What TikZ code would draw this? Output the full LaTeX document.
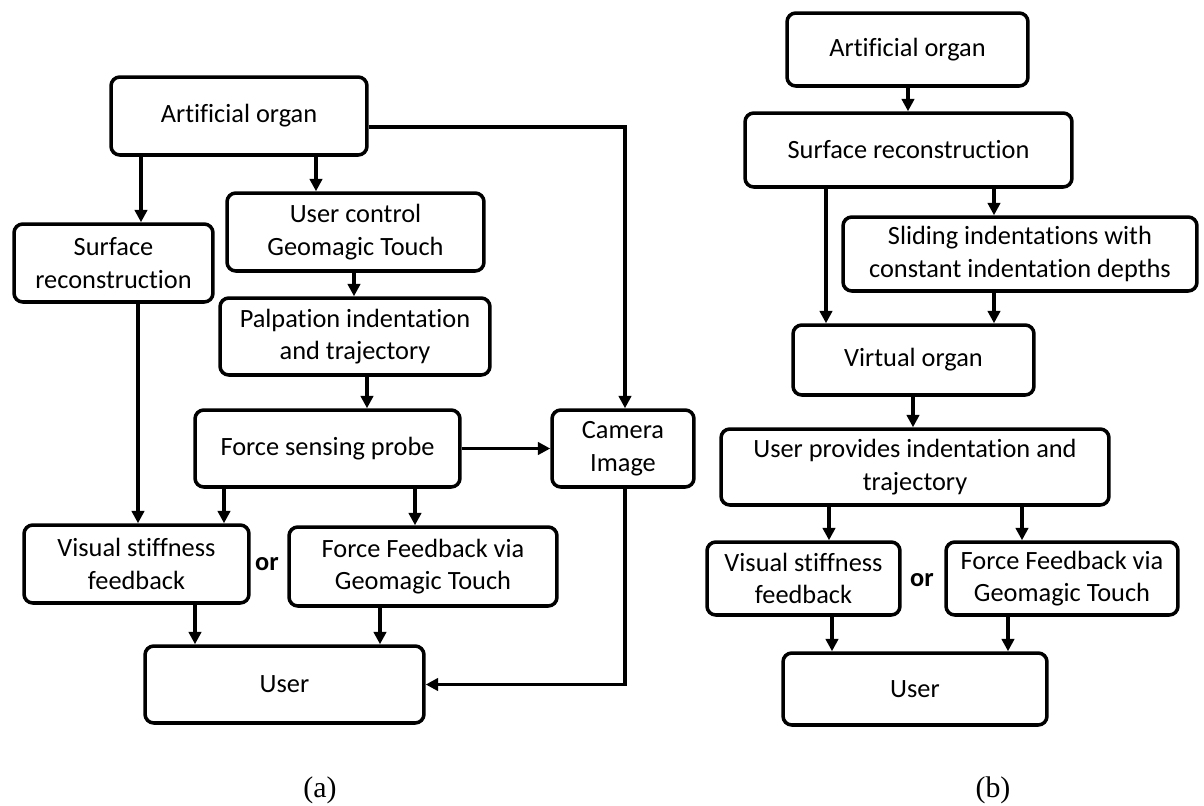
\documentclass[tikz,border=0pt]{standalone}
\usepackage{fontspec}
\setmainfont{Carlito}[Ligatures=NoCommon]
\newfontfamily\capfont{Liberation Serif}
\usetikzlibrary{arrows.meta}

\begin{document}
\begin{tikzpicture}[x=0.02cm,y=-0.02cm,
  box/.style={draw,line width=2pt,rounded corners=5pt,align=center,inner sep=0pt,
    font=\fontsize{15}{18.5}\selectfont},
  arr/.style={line width=2pt,-{Triangle[length=7pt,width=7pt]}},
  ortext/.style={font=\fontsize{15}{18}\selectfont\bfseries},
  caption/.style={font=\capfont\fontsize{17}{20}\selectfont}]

\useasboundingbox (0,0) rectangle (1204,805);

% (a)
\node[box,minimum width=5.12cm,minimum height=1.56cm] (aoA) at (239,116) {Artificial organ};
\node[box,minimum width=3.98cm,minimum height=1.56cm] (srA) at (113.5,263) {Surface\\reconstruction};
\node[box,minimum width=5.14cm,minimum height=1.56cm] (ucA) at (355.5,232) {User control\\Geomagic Touch};
\node[box,minimum width=5.4cm,minimum height=1.54cm] (palA) at (355,336.5) {Palpation indentation\\and trajectory};
\node[box,minimum width=5.3cm,minimum height=1.54cm] (fspA) at (327.5,448.5) {Force sensing probe};
\node[box,minimum width=2.84cm,minimum height=1.54cm] (camA) at (623,448.5) {Camera\\Image};
\node[box,minimum width=4.5cm,minimum height=1.56cm] (visA) at (136.5,564) {Visual stiffness\\feedback};
\node[box,minimum width=5.36cm,minimum height=1.58cm] (ffA) at (423,566.5) {Force Feedback via\\Geomagic Touch};
\node[box,minimum width=5.58cm,minimum height=1.54cm] (userA) at (284.5,684.5) {User};
\node[ortext] (orA) at (267,564) {or};

\draw[arr] (aoA.east |- 0,127) -| (625,0 |- camA.north);
\draw[arr] (141,0 |- aoA.south) -- (141,0 |- srA.north);
\draw[arr] (316,0 |- aoA.south) -- (316,0 |- ucA.north);
\draw[arr] (354,0 |- ucA.south) -- (354,0 |- palA.north);
\draw[arr] (367,0 |- palA.south) -- (367,0 |- fspA.north);
\draw[arr] (fspA.east) -- (camA.west);
\draw[arr] (138,0 |- srA.south) -- (138,0 |- visA.north);
\draw[arr] (224,0 |- fspA.south) -- (224,0 |- visA.north);
\draw[arr] (415,0 |- fspA.south) -- (415,0 |- ffA.north);
\draw[arr] (195,0 |- visA.south) -- (195,0 |- userA.north);
\draw[arr] (380,0 |- ffA.south) -- (380,0 |- userA.north);
\draw[arr] (625,0 |- camA.south) |- (userA.east);

% (b)
\node[box,minimum width=4.82cm,minimum height=1.46cm] (aoB) at (907.5,49.5) {Artificial organ};
\node[box,minimum width=6.54cm,minimum height=1.48cm] (srB) at (908.5,150) {Surface reconstruction};
\node[box,minimum width=7.08cm,minimum height=1.48cm] (slB) at (1020,254) {Sliding indentations with\\constant indentation depths};
\node[box,minimum width=4.82cm,minimum height=1.4cm] (voB) at (913.5,360) {Virtual organ};
\node[box,minimum width=7.76cm,minimum height=1.52cm] (upB) at (915,467) {User provides indentation and\\trajectory};
\node[box,minimum width=3.86cm,minimum height=1.46cm] (visB) at (803.5,578.5) {Visual stiffness\\feedback};
\node[box,minimum width=4.64cm,minimum height=1.46cm] (ffB) at (1062,578.5) {Force Feedback via\\Geomagic Touch};
\node[box,minimum width=5.28cm,minimum height=1.44cm] (userB) at (915,689) {User};
\node[ortext] (orB) at (922,580) {or};

\draw[arr] (908,0 |- aoB.south) -- (908,0 |- srB.north);
\draw[arr] (826,0 |- srB.south) -- (826,0 |- voB.north);
\draw[arr] (994,0 |- srB.south) -- (994,0 |- slB.north);
\draw[arr] (994,0 |- slB.south) -- (994,0 |- voB.north);
\draw[arr] (913,0 |- voB.south) -- (913,0 |- upB.north);
\draw[arr] (829,0 |- upB.south) -- (829,0 |- visB.north);
\draw[arr] (1022,0 |- upB.south) -- (1022,0 |- ffB.north);
\draw[arr] (832,0 |- visB.south) -- (832,0 |- userB.north);
\draw[arr] (1008,0 |- ffB.south) -- (1008,0 |- userB.north);

\node[caption] (capA) at (320,790) {(a)};
\node[caption] (capB) at (993,790) {(b)};
\end{tikzpicture}
\end{document}
